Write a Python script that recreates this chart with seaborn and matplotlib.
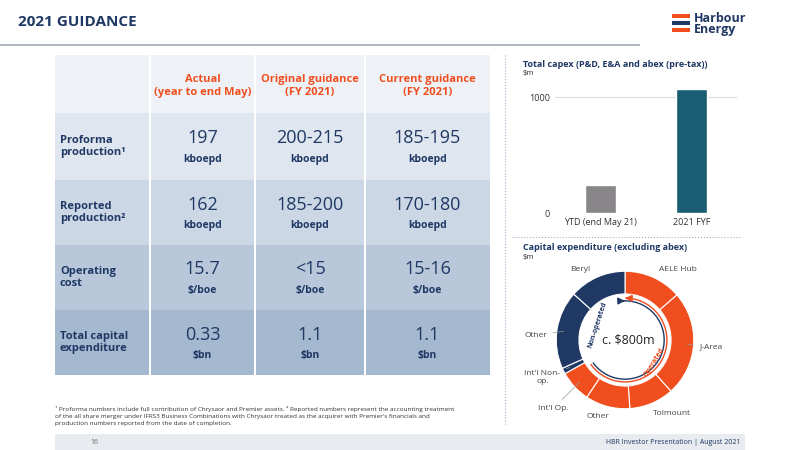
import matplotlib.pyplot as plt
import matplotlib.patches as mpatches
import numpy as np
import pandas as pd
import seaborn as sns

NAVY = "#1f3864"
ORANGE = "#f04e1f"
TEAL = "#0b6482"

col_headers = ["Actual\n(year to end May)", "Original guidance\n(FY 2021)", "Current guidance\n(FY 2021)"]
row_labels = ["Proforma\nproduction\u00b9", "Reported\nproduction\u00b2", "Operating\ncost", "Total capital\nexpenditure"]
row_values = [["197", "200-215", "185-195"], ["162", "185-200", "170-180"],
              ["15.7", "<15", "15-16"], ["0.33", "1.1", "1.1"]]
row_units = ["kboepd", "kboepd", "$/boe", "$bn"]
row_colors = ["#dfe6ef", "#cbd7e5", "#b8c8da", "#a4b8cf"]

capex_labels = ["YTD (end May 21)", "2021 FYF"]
capex_values = [245, 1070]

seg_labels = ["AELE Hub", "J-Area", "Tolmount", "Other", "Int'l Op.", "Int'l Non-\nop.", "Other", "Beryl"]
seg_values = [109, 198, 84, 84, 60, 11, 147, 107]
seg_colors = [ORANGE] * 5 + [NAVY] * 3

sns.set_style("white")
plt.rcParams["font.family"] = ["Open Sans", "DejaVu Sans"]

fig = plt.figure(figsize=(8, 4.5), dpi=100)


def fx(x):
    return x / 800


def fy(y):
    return 1 - y / 450


def rect(x0, y0, x1, y1, color, **kw):
    fig.add_artist(mpatches.Rectangle((fx(x0), fy(y1)), fx(x1 - x0), (y1 - y0) / 450,
                                      transform=fig.transFigure, facecolor=color, edgecolor="none", **kw))


# header
fig.text(fx(18), fy(22), "2021 GUIDANCE", color=NAVY, fontsize=11, fontweight="bold", va="center")
rect(0, 44, 640, 46, "#b0b8c4")
for i, c in enumerate([ORANGE, NAVY, ORANGE]):
    rect(672, 14 + i * 7, 690, 18 + i * 7, c)
fig.text(fx(694), fy(24), "Harbour\nEnergy", color=NAVY, fontsize=9, fontweight="bold",
         va="center", linespacing=0.85)

# table
col_x = [55, 150, 255, 365, 490]
row_y = [55, 113, 180, 245, 310, 375]
rect(55, 55, 490, 113, "#eef2f7")
for i, color in enumerate(row_colors):
    rect(55, row_y[i + 1], 490, row_y[i + 2], color)
for x in col_x[1:-1]:
    rect(x - 1, 55, x + 1, 375, "white")
for j, h in enumerate(col_headers):
    cx = (col_x[j + 1] + col_x[j + 2]) / 2
    fig.text(fx(cx), fy(86), h, color=ORANGE, fontsize=8, fontweight="bold", ha="center", va="center")
for i, label in enumerate(row_labels):
    y0, y1 = row_y[i + 1], row_y[i + 2]
    cy = (y0 + y1) / 2
    fig.text(fx(60), fy(cy), label, color=NAVY, fontsize=8, fontweight="bold", va="center")
    for j, v in enumerate(row_values[i]):
        cx = (col_x[j + 1] + col_x[j + 2]) / 2
        fig.text(fx(cx), fy(cy - 8), v, color=NAVY, fontsize=13, ha="center", va="center")
        fig.text(fx(cx), fy(cy + 13), row_units[i], color=NAVY, fontsize=7.5, fontweight="bold",
                 ha="center", va="center")

fig.text(fx(55), fy(416),
         "\u00b9 Proforma numbers include full contribution of Chrysaor and Premier assets. \u00b2 Reported numbers represent the accounting treatment\n"
         "of the all share merger under IFRS3 Business Combinations with Chrysaor treated as the acquirer with Premier's financials and\n"
         "production numbers reported from the date of completion.",
         fontsize=4.6, color="#333333", va="center", linespacing=1.5)

# footer
rect(55, 434, 745, 450, "#e8ebef")
fig.text(fx(90), fy(442), "16", fontsize=5, color="#666666", va="center")
fig.text(fx(740), fy(442), "HBR Investor Presentation | August 2021", fontsize=5, color=NAVY,
         ha="right", va="center")

# dotted separators
fig.add_artist(plt.Line2D([fx(505), fx(505)], [fy(55), fy(425)], transform=fig.transFigure,
                          color="#9bb0c8", lw=0.8, ls=":"))
fig.add_artist(plt.Line2D([fx(512), fx(742)], [fy(237), fy(237)], transform=fig.transFigure,
                          color="#9bb0c8", lw=0.8, ls=":"))

# bar chart
fig.text(fx(523), fy(65), "Total capex (P&D, E&A and abex (pre-tax))", fontsize=6.5,
         color=NAVY, fontweight="bold", va="center")
fig.text(fx(523), fy(74), "$m", fontsize=5.5, color="#333333", va="center")
ax = fig.add_axes([fx(555), fy(213), fx(182), (213 - 80) / 450])
df = pd.DataFrame({"label": capex_labels, "value": capex_values})
sns.barplot(data=df, x="label", y="value", hue="label", palette=["#8a8589", TEAL],
            width=0.33, legend=False, ax=ax)
ax.set_ylim(0, 1150)
ax.set_yticks([0, 1000])
ax.yaxis.grid(True, color="#dddddd", lw=0.8)
ax.set_axisbelow(True)
ax.set_xlabel("")
ax.set_ylabel("")
sns.despine(ax=ax, left=True, bottom=True)
ax.tick_params(labelsize=6.5, length=0, colors="#333333")

# donut
fig.text(fx(523), fy(248), "Capital expenditure (excluding abex)", fontsize=6.5,
         color=NAVY, fontweight="bold", va="center")
fig.text(fx(523), fy(258), "$m", fontsize=5.5, color="#333333", va="center")
cx_px, cy_px = 625, 340
dax = fig.add_axes([fx(cx_px - 110), fy(cy_px + 110), fx(220), 220 / 450])
wedges, _ = dax.pie(seg_values, colors=seg_colors, startangle=90, counterclock=False, radius=1,
                    wedgeprops=dict(width=0.33, edgecolor="white", linewidth=0.8))
lim = 1.6
dax.set_xlim(-lim, lim)
dax.set_ylim(-lim, lim)
dax.set_aspect("equal")
dax.axis("off")
label_pos = [(0.77, 1.03), (1.25, -0.1), (0.68, -1.07), (-0.39, -1.12), (-1.04, -0.99),
             (-1.2, -0.54), (-1.3, 0.07), (-0.65, 1.03)]
cum = np.cumsum([0] + seg_values)
for k, (lab, (lx, ly)) in enumerate(zip(seg_labels, label_pos)):
    mid = np.deg2rad(90 - (cum[k] + cum[k + 1]) / 2 / sum(seg_values) * 360)
    px, py = 0.86 * np.cos(mid), 0.86 * np.sin(mid)
    dax.annotate(lab, (px, py), (lx, ly), fontsize=6, color="#444444", ha="center", va="center",
                 arrowprops=dict(arrowstyle="-", color="#999999", lw=0.5) if k in (1, 4, 5, 6) else None)
dax.text(0.05, 0, "c. $800m", fontsize=9, color="#222222", ha="center", va="center")
# operated / non-operated arcs
dax.add_patch(mpatches.Arc((0, 0), 1.22, 1.22, theta1=90 - 235, theta2=87, color=ORANGE, lw=1.0))
dax.add_patch(mpatches.Arc((0, 0), 1.14, 1.14, theta1=215, theta2=93, color=NAVY, lw=1.0))
dax.annotate("", (0.0, 0.61), (0.06, 0.608), arrowprops=dict(arrowstyle="-|>", color=ORANGE, lw=1.0))
dax.annotate("", (0.0, 0.57), (-0.06, 0.568), arrowprops=dict(arrowstyle="-|>", color=NAVY, lw=1.0))
dax.text(0.43, -0.33, "Operated", rotation=58, fontsize=5, color=ORANGE, fontweight="bold",
         ha="center", va="center")
dax.text(-0.4, 0.22, "Non-operated", rotation=72, fontsize=5, color=NAVY, fontweight="bold",
         ha="center", va="center")

fig.savefig("out.png", dpi=100)
